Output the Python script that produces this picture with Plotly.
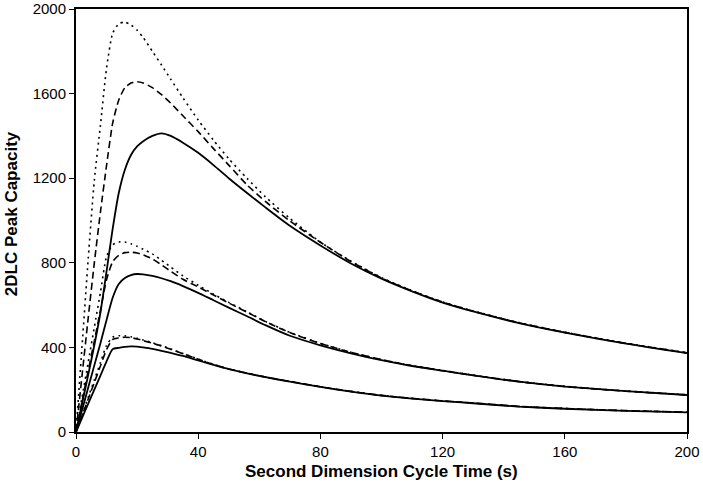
import plotly.graph_objects as go

# Second dimension cycle time (s)
t = [0, 2, 4, 6, 8, 10, 12, 14, 16, 18, 20, 22, 25, 28, 31, 35, 40, 45, 50, 56, 62, 70, 80, 90,
     100, 110, 120, 130, 145, 160, 180, 200]

# Top group
top_solid = [0, 135, 270, 410, 565, 760, 960, 1130, 1240, 1310, 1350, 1375, 1400, 1412, 1400, 1368,
             1320, 1262, 1200, 1130, 1062, 975, 882, 797, 725, 665, 612, 570, 515, 470, 418, 373]
top_dash = [0, 270, 540, 800, 1040, 1260, 1460, 1570, 1628, 1650, 1656, 1650, 1628, 1595, 1555, 1495,
            1420, 1340, 1262, 1168, 1090, 998, 897, 806, 728, 667, 614, 571, 516, 471, 419, 374]
top_dot = [0, 410, 820, 1190, 1450, 1720, 1885, 1930, 1938, 1925, 1900, 1865, 1800, 1735, 1668, 1580,
           1475, 1380, 1292, 1199, 1112, 1010, 898, 808, 730, 668, 615, 572, 517, 472, 420, 375]

# Middle group
mid_solid = [0, 105, 210, 315, 420, 530, 635, 700, 728, 742, 747, 745, 738, 727, 713, 690,
             658, 623, 588, 547, 505, 455, 410, 372, 340, 312, 290, 268, 238, 215, 193, 175]
mid_dash = [0, 145, 290, 430, 575, 720, 805, 835, 848, 850, 846, 838, 818, 790, 760, 722,
            686, 648, 610, 566, 522, 470, 418, 377, 342, 313, 290, 268, 238, 215, 193, 175]
mid_dot = [0, 165, 330, 495, 660, 830, 885, 898, 898, 890, 878, 864, 842, 812, 780, 738,
           694, 652, 613, 568, 523, 471, 419, 377, 342, 314, 291, 269, 239, 216, 194, 176]

# Bottom group
bot_solid = [0, 67, 134, 200, 267, 334, 392, 398, 403, 405, 404, 400, 393, 384, 374, 360,
             338, 317, 297, 277, 259, 238, 213, 191, 172, 158, 146, 136, 120, 110, 100, 93]
bot_dash = [0, 78, 156, 234, 312, 390, 438, 445, 448, 446, 440, 432, 420, 406, 391, 370,
            344, 319, 298, 278, 260, 239, 214, 192, 173, 159, 147, 137, 121, 111, 101, 94]
bot_dot = [0, 82, 164, 246, 328, 410, 448, 455, 455, 450, 443, 435, 422, 408, 393, 371,
           345, 320, 298, 278, 260, 239, 214, 192, 173, 159, 147, 137, 121, 111, 101, 94]

x_ticks = [0, 40, 80, 120, 160, 200]
y_ticks = [0, 400, 800, 1200, 1600, 2000]

x_title = "Second Dimension Cycle Time (s)"
y_title = "2DLC Peak Capacity"

series = [
    (top_solid, "solid"), (top_dash, "dash"), (top_dot, "dot"),
    (mid_solid, "solid"), (mid_dash, "dash"), (mid_dot, "dot"),
    (bot_solid, "solid"), (bot_dash, "dash"), (bot_dot, "dot"),
]

dash_map = {"solid": "solid", "dash": "7px,4px", "dot": "2px,4px"}

fig = go.Figure()
for vals, dash in series:
    fig.add_trace(go.Scatter(
        x=t, y=vals, mode="lines",
        line=dict(color="black", width=1.8 if dash == "solid" else 1.6,
                  dash=dash_map[dash], shape="spline", smoothing=0.6),
        showlegend=False, hoverinfo="skip"))

axis_common = dict(showline=True, linecolor="black", linewidth=2, mirror=True,
                   ticks="outside", ticklen=5, tickcolor="black", tickwidth=1,
                   showgrid=False, zeroline=False, automargin=False,
                   tickfont=dict(family="Liberation Sans, Arial", size=15, color="black"))

fig.update_layout(
    width=703, height=496,
    margin=dict(l=76, r=16, t=9, b=64, autoexpand=False),
    plot_bgcolor="white", paper_bgcolor="white",
    xaxis=dict(range=[0, 200], tickvals=x_ticks, ticktext=[str(v) for v in x_ticks],
               **axis_common),
    yaxis=dict(range=[0, 2000], tickvals=y_ticks, ticktext=[str(v) for v in y_ticks],
               **axis_common),
    annotations=[
        dict(text="<b>" + x_title + "</b>", xref="paper", yref="paper", x=0.5, y=0,
             xanchor="center", yanchor="middle", yshift=-39, showarrow=False,
             font=dict(family="Liberation Sans, Arial", size=17, color="black")),
        dict(text="<b>" + y_title + "</b>", xref="paper", yref="paper", x=0, y=0.515,
             xanchor="center", yanchor="middle", xshift=-65, textangle=-90, showarrow=False,
             font=dict(family="Liberation Sans, Arial", size=17, color="black")),
    ],
)

fig.write_html("out.html", config={"displayModeBar": False},
               post_script="document.body.style.margin='0';")
